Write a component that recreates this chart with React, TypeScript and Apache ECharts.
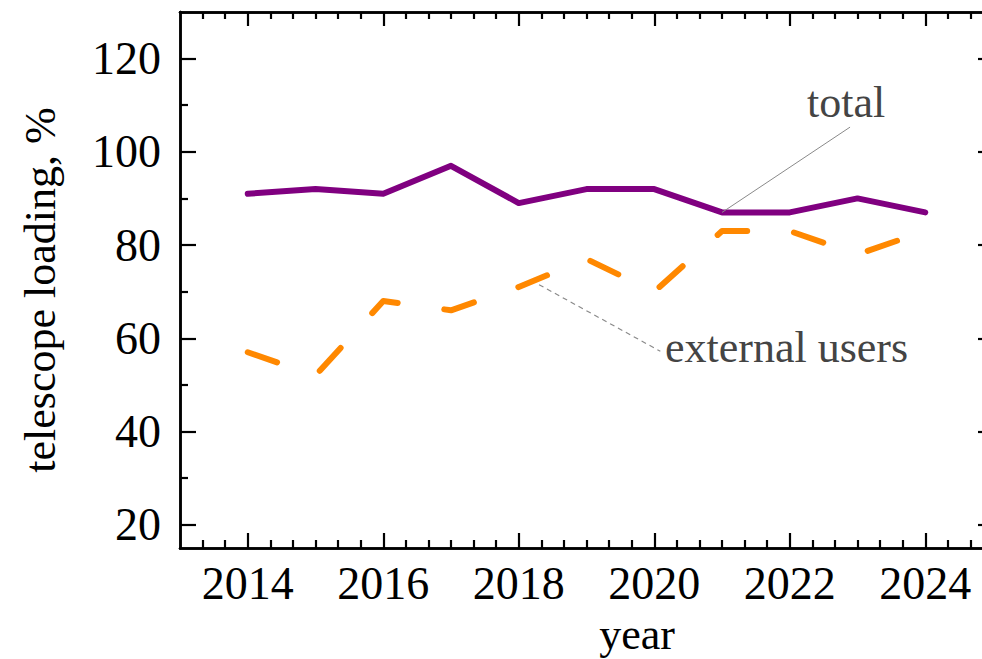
import React, { useEffect, useRef } from "react";
import * as echarts from "echarts";

// Observation years and loading shares, %
const YEARS = [2014, 2015, 2016, 2017, 2018, 2019, 2020, 2021, 2022, 2023, 2024];
const TOTAL = [91, 92, 91, 97, 89, 92, 92, 87, 87, 90, 87];
const EXTERNAL = [57, 52, 68, 66, 71, 77, 70, 83, 83, 78, 83];

// Axis ranges and tick marks
const X_MIN = 2013;
const X_MAX = 2025;
const Y_MIN = 15;
const Y_MAX = 130;
const X_MAJOR = [2014, 2016, 2018, 2020, 2022, 2024];
const Y_MAJOR = [20, 40, 60, 80, 100, 120];
const Y_MINOR = [30, 50, 70, 90, 110];

// Callout leader lines, in data coordinates
const TOTAL_LEADER: [number, number][] = [[2021, 87], [2022.89, 105.3]];
const EXTERNAL_LEADER: [number, number][] = [[2018.3, 71.5], [2020.09, 57.2]];

const FONT = "'Liberation Serif', 'Times New Roman', serif";

// Minor x ticks every third of a year, skipping the labelled years
const X_MINOR: number[] = [];
for (let i = 1; i < (X_MAX - X_MIN) * 3; i++) {
  const v = X_MIN + i / 3;
  if (!X_MAJOR.some((m) => Math.abs(m - v) < 1e-6)) X_MINOR.push(v);
}

const fmtInt = (v: number) => String(Math.round(v));

function xAxisDef(position: "top" | "bottom", ticks: number[], len: number, labels: boolean) {
  return {
    type: "value",
    gridIndex: 0,
    position,
    min: X_MIN,
    max: X_MAX,
    axisLine: { show: true, onZero: false, lineStyle: { color: "#000", width: 2.5 } },
    axisTick: {
      show: true,
      inside: true,
      length: len,
      customValues: ticks,
      lineStyle: { color: "#000", width: 2.2 },
    },
    axisLabel: {
      show: labels,
      customValues: ticks,
      formatter: fmtInt,
      margin: 12,
      fontSize: 46,
      fontFamily: FONT,
      color: "#000",
    },
    splitLine: { show: false },
  };
}

function yAxisDef(position: "left" | "right", ticks: number[], len: number, labels: boolean) {
  return {
    type: "value",
    gridIndex: 0,
    position,
    min: Y_MIN,
    max: Y_MAX,
    axisLine: { show: true, onZero: false, lineStyle: { color: "#000", width: 2.5 } },
    axisTick: {
      show: true,
      inside: true,
      length: len,
      customValues: ticks,
      lineStyle: { color: "#000", width: 2.2 },
    },
    axisLabel: {
      show: labels,
      customValues: ticks,
      formatter: fmtInt,
      margin: 19,
      fontSize: 46,
      fontFamily: FONT,
      color: "#000",
    },
    splitLine: { show: false },
  };
}

export default function App() {
  const ref = useRef<HTMLDivElement>(null);

  useEffect(() => {
    if (!ref.current) return;
    const chart = echarts.init(ref.current, undefined, { renderer: "svg" });

    const totalData = YEARS.map((y, i) => [y, TOTAL[i]]);
    const externalData = YEARS.map((y, i) => [y, EXTERNAL[i]]);

    chart.setOption({
      animation: false,
      backgroundColor: "#fff",
      // the frame's right edge runs just past the visible area
      grid: {
        left: 180,
        top: 12,
        width: 813,
        height: 536,
        containLabel: false,
        outerBoundsMode: "none",
      },
      xAxis: [
        xAxisDef("bottom", X_MAJOR, 15, true),
        xAxisDef("bottom", X_MINOR, 8, false),
        xAxisDef("top", X_MAJOR, 14, false),
        xAxisDef("top", X_MINOR, 7, false),
      ],
      yAxis: [
        yAxisDef("left", Y_MAJOR, 16, true),
        yAxisDef("left", Y_MINOR, 8, false),
        yAxisDef("right", Y_MAJOR, 15, false),
        yAxisDef("right", Y_MINOR, 8, false),
      ],
      series: [
        {
          name: "total",
          type: "line",
          data: totalData,
          showSymbol: false,
          symbol: "none",
          lineStyle: { color: "#800080", width: 6, cap: "round", join: "round" },
          markLine: {
            silent: true,
            symbol: "none",
            label: { show: false },
            lineStyle: { color: "#8a8a8a", width: 1, type: "solid" },
            data: [[{ coord: TOTAL_LEADER[0] }, { coord: TOTAL_LEADER[1] }]],
          },
        },
        {
          name: "external users",
          type: "line",
          data: externalData,
          showSymbol: false,
          symbol: "none",
          lineStyle: { color: "#FF8800", width: 6, type: [31, 47], cap: "round", join: "round" },
          markLine: {
            silent: true,
            symbol: "none",
            label: { show: false },
            lineStyle: { color: "#8a8a8a", width: 1.2, type: [5, 4] },
            data: [[{ coord: EXTERNAL_LEADER[0] }, { coord: EXTERNAL_LEADER[1] }]],
          },
        },
      ],
      graphic: [
        {
          type: "text",
          x: 40,
          y: 290,
          rotation: Math.PI / 2,
          style: {
            text: "telescope loading, %",
            font: `44px ${FONT}`,
            fill: "#000",
            align: "center",
            verticalAlign: "middle",
          },
        },
        {
          type: "text",
          x: 637,
          y: 634,
          style: {
            text: "year",
            font: `44px ${FONT}`,
            fill: "#000",
            align: "center",
            verticalAlign: "middle",
          },
        },
        {
          type: "text",
          x: 807,
          y: 102,
          style: {
            text: "total",
            font: `44px ${FONT}`,
            fill: "#444",
            align: "left",
            verticalAlign: "middle",
          },
        },
        {
          type: "text",
          x: 665,
          y: 347,
          style: {
            text: "external users",
            font: `44px ${FONT}`,
            fill: "#444",
            align: "left",
            verticalAlign: "middle",
          },
        },
      ],
    });

    return () => chart.dispose();
  }, []);

  return (
    <div
      ref={ref}
      style={{
        position: "fixed",
        left: 0,
        top: 0,
        width: 982,
        height: 659,
        overflow: "hidden",
        background: "#fff",
      }}
    />
  );
}
